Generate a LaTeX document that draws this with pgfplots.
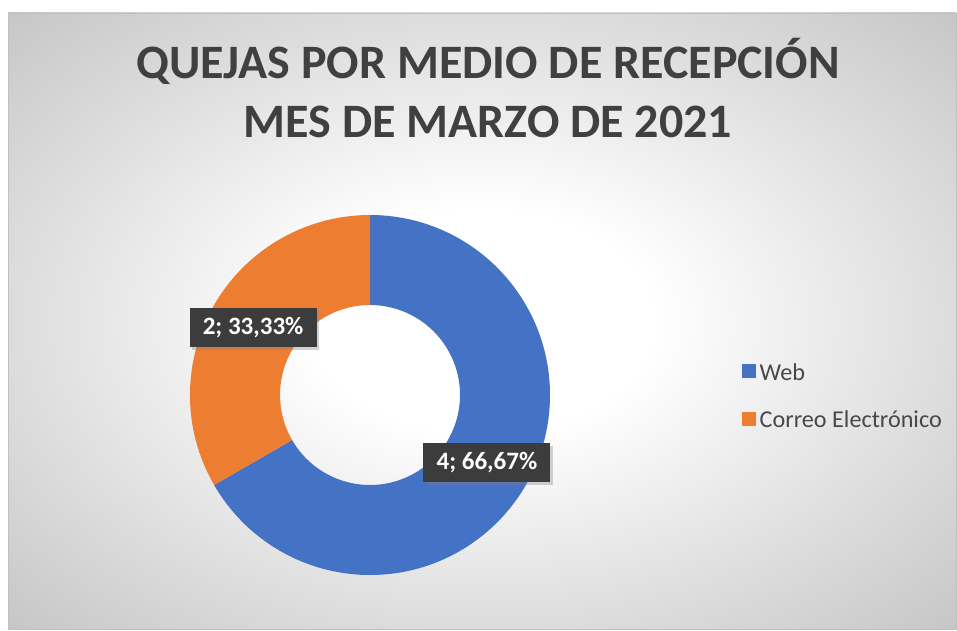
\documentclass[border=0pt]{standalone}
\usepackage{pgfplots}
\pgfplotsset{compat=1.18}
\usepackage{pgfplotstable}
\usepackage{fontspec}
\setmainfont{Carlito}
\usetikzlibrary{shadows}
\definecolor{webblue}{HTML}{4472C4}
\definecolor{corange}{HTML}{ED7D31}
\definecolor{titlegray}{HTML}{404040}
\definecolor{legtext}{HTML}{484848}
\definecolor{boxgray}{HTML}{3C3C3C}
\definecolor{bgA}{HTML}{DCDCDC}
\definecolor{bgB}{HTML}{C5C5C5}
\definecolor{bordergray}{HTML}{C0C0C0}
\pgfdeclareradialshading{chartbg}{\pgfpoint{0bp}{0bp}}{color(0bp)=(white); color(9bp)=(white); color(25bp)=(bgA); color(36bp)=(bgB); color(50bp)=(bgB)}
\tikzset{lbl/.style={fill=boxgray, text=white, font=\bfseries\fontsize{25}{25}\selectfont,
    minimum width=127pt, minimum height=39pt, inner sep=0pt,
    drop shadow={shadow xshift=2.5pt, shadow yshift=-2.5pt, opacity=0.35}}}

\pgfplotstableread{
label value
Web 4
Correo 2
}\chartdata

\begin{document}
\begin{tikzpicture}
\pgfplotstablegetelem{0}{value}\of\chartdata \let\vWeb\pgfplotsretval
\pgfplotstablegetelem{1}{value}\of\chartdata \let\vCor\pgfplotsretval
\pgfmathsetmacro\tot{\vWeb+\vCor}
\pgfmathsetmacro\aWeb{360*\vWeb/\tot}
\pgfmathsetmacro\aCor{360*\vCor/\tot}
\pgfmathsetmacro\eWeb{90-\aWeb}
\pgfmathsetmacro\eCor{\eWeb-\aCor}
\pgfmathsetmacro\mWeb{90-\aWeb/2}
\pgfmathsetmacro\mCor{\eWeb-\aCor/2}
\pgfmathsetmacro\pWeb{100*\vWeb/\tot}
\pgfmathsetmacro\pCor{100*\vCor/\tot}

\fill[white] (0pt,0pt) rectangle (957pt,630pt);
\shade[shading=chartbg] (8pt,1pt) rectangle (956pt,617pt);
\draw[bordergray, line width=0.8pt] (8pt,1pt) rectangle (956pt,617pt);

\node[font=\bfseries\fontsize{48}{58}\selectfont, text=titlegray, anchor=base, inner sep=0pt] at (488pt,551pt) {QUEJAS POR MEDIO DE RECEPCIÓN};
\node[font=\bfseries\fontsize{48}{58}\selectfont, text=titlegray, anchor=base, inner sep=0pt] at (488pt,492pt) {MES DE MARZO DE 2021};

\begin{axis}[
  at={(190pt,55pt)}, anchor=south west,
  scale only axis, width=360pt, height=360pt,
  xmin=-1, xmax=1, ymin=-1, ymax=1,
  hide axis, clip=false,
  legend image code/.code={\fill (0pt,-5.5pt) rectangle (14pt,8.5pt);},
  legend cell align=left,
  legend style={at={(axis description cs:1.5333,0.496)}, anchor=west,
    draw=none, fill=none, inner sep=0pt, row sep=25pt,
    nodes={inner xsep=3.5pt},
    font=\fontsize{24.2}{24.2}\selectfont, text=legtext},
]
\fill[webblue] (axis cs:{cos(90)},{sin(90)}) arc[start angle=90, end angle=\eWeb, radius=180pt]
  -- (axis cs:{0.5*cos(\eWeb)},{0.5*sin(\eWeb)}) arc[start angle=\eWeb, end angle=90, radius=90pt] -- cycle;
\fill[corange] (axis cs:{cos(\eWeb)},{sin(\eWeb)}) arc[start angle=\eWeb, end angle=\eCor, radius=180pt]
  -- (axis cs:{0.5*cos(\eCor)},{0.5*sin(\eCor)}) arc[start angle=\eCor, end angle=\eWeb, radius=90pt] -- cycle;
\addlegendimage{fill=webblue, draw=none}
\addlegendentry{Web}
\addlegendimage{fill=corange, draw=none}
\addlegendentry{Correo Electrónico}
\node[lbl] at (axis cs:{0.75*cos(\mCor)},{0.75*sin(\mCor)}) {\vCor; \pgfmathprintnumber[fixed, fixed zerofill, precision=2, use comma, assume math mode=true]{\pCor}\%};
\node[lbl] at (axis cs:{0.75*cos(\mWeb)},{0.75*sin(\mWeb)}) {\vWeb; \pgfmathprintnumber[fixed, fixed zerofill, precision=2, use comma, assume math mode=true]{\pWeb}\%};
\end{axis}
\end{tikzpicture}
\end{document}
